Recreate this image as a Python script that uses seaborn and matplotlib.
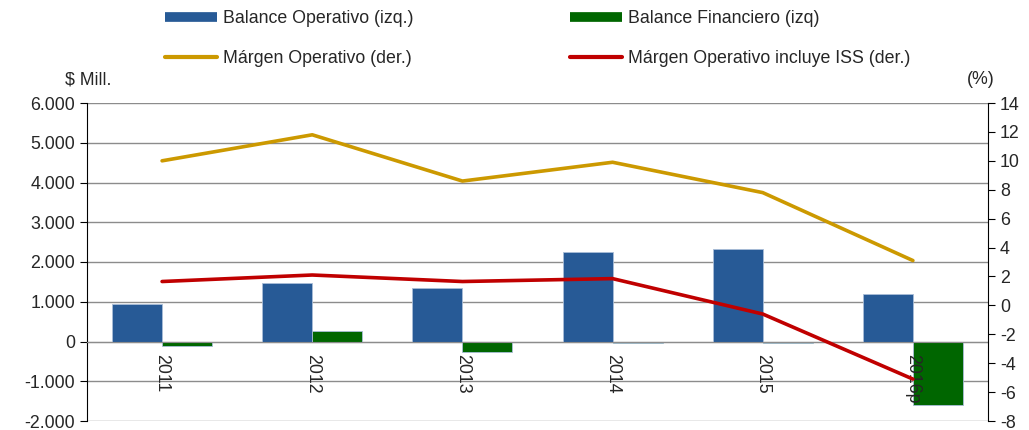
import numpy as np
import pandas as pd
import seaborn as sns
import matplotlib.pyplot as plt
from matplotlib.lines import Line2D
from matplotlib.ticker import FuncFormatter, FixedLocator

# Data
years = ['2011', '2012', '2013', '2014', '2015', '2016p']
balance_operativo = [950, 1470, 1345, 2255, 2330, 1195]
balance_financiero = [-110, 275, -265, -30, -30, -1600]
margen_operativo = [10.0, 11.8, 8.6, 9.9, 7.8, 3.1]
margen_iss = [1.65, 2.1, 1.65, 1.85, -0.6, -5.1]

bar_labels = ['Balance Operativo (izq.)', 'Balance Financiero (izq)']
line_labels = ['Márgen Operativo (der.)', 'Márgen Operativo incluye ISS (der.)']
colors = {'blue': '#275A96', 'green': '#006600', 'gold': '#CC9900', 'red': '#C00000'}

sns.set_style('white')
plt.rcParams['font.family'] = ['Liberation Sans', 'DejaVu Sans']
plt.rcParams['axes.unicode_minus'] = False
fs = 12.8

df = pd.DataFrame({
    'year': years * 2,
    'valor': balance_operativo + balance_financiero,
    'serie': [bar_labels[0]] * len(years) + [bar_labels[1]] * len(years),
})

fig = plt.figure(figsize=(10.29, 4.30), dpi=100)
ax = fig.add_axes([87 / 1029, 1 - 421 / 430, 901 / 1029, 318 / 430])

sns.barplot(data=df, x='year', y='valor', hue='serie', order=years,
            palette=[colors['blue'], colors['green']], width=2 / 3, saturation=1,
            edgecolor='#A9BDD8', linewidth=0.6, ax=ax, legend=False)

ax.set_ylim(-2000, 6000)
ax.set_xlim(-0.5, len(years) - 0.5)
ax.set_yticks(np.arange(-2000, 6001, 1000))
ax.yaxis.set_major_formatter(FuncFormatter(lambda v, p: f'{v:,.0f}'.replace(',', '.')))
ax.yaxis.grid(True, color='#8C8C8C', linewidth=1)
ax.set_axisbelow(True)
ax.set_xlabel('')
ax.set_ylabel('')

# x axis sits on the zero line
ax.spines['bottom'].set_position(('data', 0))
ax.spines['bottom'].set_color('#8C8C8C')
ax.spines['top'].set_visible(False)
ax.spines['right'].set_visible(False)
ax.spines['left'].set_color('black')
ax.xaxis.set_minor_locator(FixedLocator(np.arange(0.5, len(years) - 0.5, 1)))
ax.tick_params(axis='x', which='major', length=0, labelbottom=False)
ax.tick_params(axis='x', which='minor', length=4, color='#8C8C8C', direction='out')
ax.tick_params(axis='y', length=5, color='black', direction='out', labelsize=fs, left=True)

ax2 = ax.twinx()
x_pos = np.arange(len(years))
sns.lineplot(x=x_pos, y=margen_operativo, color=colors['gold'], linewidth=2.6, ax=ax2)
sns.lineplot(x=x_pos, y=margen_iss, color=colors['red'], linewidth=2.6, ax=ax2)
ax2.set_ylim(-8, 14)
ax2.set_yticks(np.arange(-8, 15, 2))
ax2.set_xlim(-0.5, len(years) - 0.5)
ax2.grid(False)
for s in ['top', 'left']:
    ax2.spines[s].set_visible(False)
ax2.spines['right'].set_color('black')
ax2.tick_params(axis='y', length=5, color='black', direction='out', labelsize=fs, right=True)

# year labels on the twin axis so they are drawn above the bars
ax2.xaxis.set_visible(True)
ax2.spines['bottom'].set_position(('axes', 0.25))
ax2.spines['bottom'].set_visible(False)
ax2.set_xticks(x_pos)
ax2.set_xticklabels(years)
ax2.set_xlabel('')
ax2.tick_params(axis='x', which='major', bottom=True, top=False, labelbottom=True,
                labeltop=False, length=0, pad=9, labelsize=fs, labelrotation=270)
ax2.tick_params(axis='x', which='minor', length=0)
ax.tick_params(axis='x', which='major', labelbottom=False)
for lbl in ax2.get_xticklabels():
    lbl.set_va('top')

fig.text(88 / 1029, 1 - 80 / 430, '$ Mill.', ha='center', va='center', fontsize=fs)
fig.text(981 / 1029, 1 - 80 / 430, '(%)', ha='center', va='center', fontsize=fs)

handles = [
    Line2D([], [], color=colors['blue'], linewidth=7, solid_capstyle='butt'),
    Line2D([], [], color=colors['gold'], linewidth=3, solid_capstyle='round'),
    Line2D([], [], color=colors['green'], linewidth=7, solid_capstyle='butt'),
    Line2D([], [], color=colors['red'], linewidth=3, solid_capstyle='round'),
]
labels = [bar_labels[0], line_labels[0], bar_labels[1], line_labels[1]]
fig.legend(handles, labels, ncol=2, loc='upper left', frameon=False,
           bbox_to_anchor=(165 / 1029, 1 - 10 / 430), borderaxespad=0, borderpad=0,
           fontsize=fs, handlelength=2.95, handletextpad=0.3,
           columnspacing=8.8, labelspacing=1.3)

fig.savefig('out.png', dpi=100)
